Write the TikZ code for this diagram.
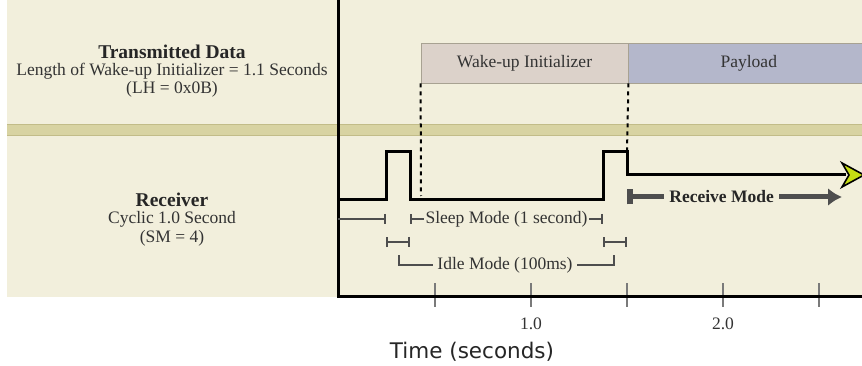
\documentclass[tikz,border=0pt]{standalone}
\usepackage{fontspec}
\setmainfont{Liberation Serif}
\newfontfamily\axisfont{DejaVu Sans}
\usetikzlibrary{arrows.meta}

\definecolor{paper}{HTML}{F2EFDC}
\definecolor{band}{HTML}{D8D3A2}
\definecolor{bandedge}{HTML}{C2BC88}
\definecolor{wakefill}{HTML}{DCD2CA}
\definecolor{payfill}{HTML}{B4B7CB}
\definecolor{boxedge}{HTML}{A8A292}
\definecolor{markgray}{HTML}{4E4E4E}
\definecolor{tickgray}{HTML}{7A7A7A}
\definecolor{tipgreen}{HTML}{C6DE12}

\begin{document}
\begin{tikzpicture}[x=1pt,y=-1pt,
      signal/.style={line width=3pt,line join=miter},
      marker/.style={line width=1.6pt,draw=markgray},
      tickmark/.style={line width=1.4pt,draw=tickgray},
      title/.style={font=\fontsize{19.5}{22}\selectfont\bfseries,text=black!85},
      lbl/.style={font=\fontsize{17.5}{20}\selectfont,text=black!80,inner sep=1pt},
      frame/.style={draw=boxedge,line width=0.8pt,minimum height=40pt,inner sep=0pt}]

      \useasboundingbox (0,0) rectangle (862,366);
      \fill[white] (0,0) rectangle (862,366);
      \fill[paper] (7,0) rectangle (862,297);
      \fill[band] (7,124) rectangle (862,135);
      \draw[bandedge,line width=0.8pt] (7,124) -- (862,124) (7,135) -- (862,135);

      % left column labels
      \node[title] (tx) at (172,52) {Transmitted Data};
      \node[lbl] (txlen) at (172,71) {Length of Wake-up Initializer = 1.1 Seconds};
      \node[lbl] (txlh) at (172,89) {(LH = 0x0B)};
      \node[title] (rx) at (172,200) {Receiver};
      \node[lbl] (rxcyc) at (172,219) {Cyclic 1.0 Second};
      \node[lbl] (rxsm) at (172,238) {(SM = 4)};

      % transmitted frames
      \node[frame,fill=wakefill,minimum width=207pt,lbl] (wake) at (524.5,63) {Wake-up Initializer};
      \node[frame,fill=payfill,minimum width=240pt,lbl,anchor=west] (pay) at (wake.east) {Payload};

      % axes
      \coordinate (origin) at (338,296);
      \coordinate (top) at (338,0);
      \coordinate (end) at (862,296);
      \foreach \x/\t in {435/,531/1.0,627/,723/2.0,819/} {
        \draw[tickmark] (\x,283) -- (\x,307);
        \node[lbl] (t\x) at (\x,324) {\t};
      }
      \draw[line width=3pt] (top) -- (origin) -- (end);
      \node[font=\axisfont\fontsize{21.5}{24}\selectfont,text=black!85] (time) at (472,352) {Time (seconds)};

      % receiver signal
      \coordinate (s0) at (338,200);
      \coordinate (p1) at (386,200);
      \coordinate (p2) at (410,200);
      \coordinate (p3) at (603,200);
      \coordinate (p4) at (627,200);
      \draw[signal] (s0) -- (p1) -- (386,152) -- (410,152) -- (p2) -- (p3)
        -- (603,152) -- (627,152) -- (627,175) -- (846,175);
      \draw[line width=1.6pt,fill=tipgreen,line join=miter]
        (842,163) -- (864,175) -- (842,187) -- (849,175) -- cycle;

      % dashed guides
      \draw[line width=2pt,dash pattern=on 4pt off 4pt] (wake.south west) -- (421,196);
      \draw[line width=2pt,dash pattern=on 4pt off 4pt] (wake.south east) -- (627,152);

      % modes
      \draw[marker,-{Bar[width=10pt]}] (s0 |- 0,219) -- (386,219);
      \draw[marker,{Bar[width=10pt]}-{Bar[width=10pt]}] (410,219) -- (603,219)
        node[midway,lbl,fill=paper,inner sep=2pt] (sleep) {Sleep Mode (1 second)};
      \draw[marker,{Bar[width=10pt]}-{Bar[width=10pt]}] (386,242) -- (410,242);
      \draw[marker,{Bar[width=10pt]}-{Bar[width=10pt]}] (603,242) -- (627,242);
      \draw[marker] (399,255) -- (399,265) -- (614,265) -- (614,255);
      \node[lbl,fill=paper,inner sep=4pt] (idle) at (505,265) {Idle Mode (100ms)};

      \draw[line width=5pt,draw=markgray,{Bar[width=15pt,line width=6pt]}-{Latex[length=14pt,width=18pt]}]
        (627,197) -- (842,197)
        node[pos=0.44,fill=paper,font=\fontsize{17.5}{20}\selectfont\bfseries,text=black!85,inner sep=5pt] (recv) {Receive Mode};
\end{tikzpicture}
\end{document}
